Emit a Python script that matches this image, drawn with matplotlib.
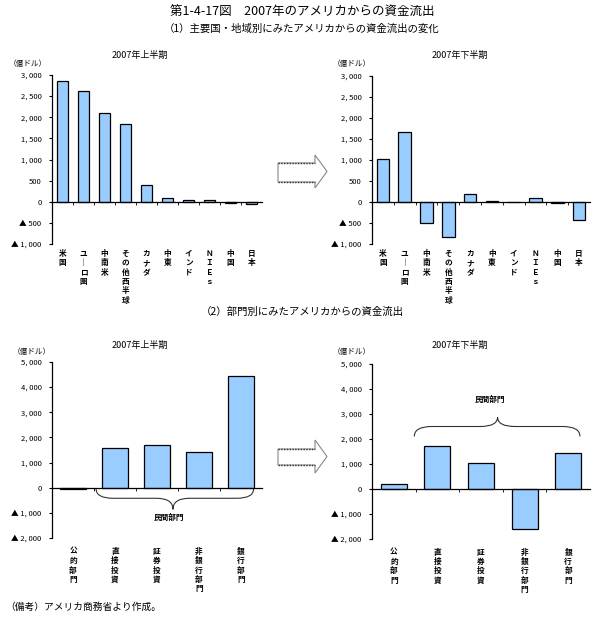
import numpy as np
import matplotlib
matplotlib.use("Agg")
import matplotlib.pyplot as plt
from matplotlib.path import Path
from matplotlib.patches import PathPatch, Polygon
from matplotlib.transforms import blended_transform_factory

plt.rcParams['font.family'] = ['Noto Sans CJK JP', 'DejaVu Sans']

# (1) regions / countries
regions = ["米国", "ユ｜ロ圏", "中南米", "その他西半球", "カナダ", "中東", "インド", "ＮＩＥｓ", "中国", "日本"]
first_half = [2850, 2610, 2100, 1830, 400, 80, 50, 50, -20, -50]
second_half = [1030, 1660, -500, -840, 200, 35, 10, 105, -20, -440]
top_ticks = [-1000, -500, 0, 500, 1000, 1500, 2000, 2500, 3000]

# (2) sectors
sectors = ["公的部門", "直接投資", "証券投資", "非銀行部門", "銀行部門"]
sector_first = [-50, 1590, 1700, 1420, 4430]
sector_second = [200, 1720, 1040, -1600, 1440]
bottom_ticks = [-2000, -1000, 0, 1000, 2000, 3000, 4000, 5000]

W, H = 604, 617
BAR = "#99CCFF"


def px(x, y):
    return x / W, 1 - y / H


def fmt(v):
    s = f"{abs(v):,}".replace(",", ", ")
    return "▲ " + s if v < 0 else s


def bar_panel(rect, cats, vals, ticks, width, label_top=-0.03):
    x0, y0, x1, y1 = rect
    ax = fig.add_axes([x0 / W, 1 - y1 / H, (x1 - x0) / W, (y1 - y0) / H])
    n = len(cats)
    x = np.arange(n)
    ax.bar(x, vals, width=width, color=BAR, edgecolor="black", linewidth=0.9)
    ax.set_xlim(-0.5, n - 0.5)
    ax.set_ylim(ticks[0], ticks[-1])
    ax.spines['top'].set_visible(False)
    ax.spines['right'].set_visible(False)
    ax.spines['bottom'].set_position(('data', 0))
    ax.spines['left'].set_linewidth(0.9)
    ax.spines['bottom'].set_linewidth(0.9)
    ax.set_xticks(np.arange(n - 1) + 0.5)
    ax.set_xticklabels([])
    ax.tick_params(axis='x', length=2, width=0.6, direction='out')
    ax.set_yticks(ticks)
    ax.set_yticklabels([fmt(t) for t in ticks], fontsize=5.5)
    ax.tick_params(axis='y', length=2.5, width=0.8, pad=5)
    tr = blended_transform_factory(ax.transData, ax.transAxes)
    for i, c in enumerate(cats):
        ax.text(i, label_top, "\n".join(c), transform=tr, ha='center', va='top',
                fontsize=5.5, linespacing=1.05, fontweight='bold')
    return ax


def brace(ax, x0, x1, xc, y_end, y_body, y_tip, r):
    verts = [(x0, y_end), (x0, y_body), (x0 + r, y_body),
             (xc - r, y_body), (xc, y_body), (xc, y_tip),
             (xc, y_body), (xc + r, y_body),
             (x1 - r, y_body), (x1, y_body), (x1, y_end)]
    codes = [Path.MOVETO, Path.CURVE3, Path.CURVE3,
             Path.LINETO, Path.CURVE3, Path.CURVE3,
             Path.CURVE3, Path.CURVE3,
             Path.LINETO, Path.CURVE3, Path.CURVE3]
    ax.add_patch(PathPatch(Path(verts, codes), facecolor='none', edgecolor='#333333',
                           linewidth=0.8, clip_on=False))


def arrow(xa, xs, xt, ya, yb, ha, hb):
    ym = (ha + hb) / 2
    pts = [px(xa, ya), px(xs, ya), px(xs, ha), px(xt, ym), px(xs, hb), px(xs, yb), px(xa, yb)]
    fig.add_artist(Polygon(pts, closed=True, facecolor='white', edgecolor='#888888',
                           linewidth=0.8, transform=fig.transFigure))
    for yy in (ya, yb):
        fig.add_artist(plt.Line2D([xa / W, xs / W], [1 - yy / H] * 2, color='#333333',
                                  linestyle=(0, (1, 1)), linewidth=1.0,
                                  transform=fig.transFigure))


fig = plt.figure(figsize=(W / 100, H / 100), dpi=100)

fig.text(*px(302, 12), "第1-4-17図　2007年のアメリカからの資金流出", ha='center', va='center', fontsize=9)
fig.text(*px(302, 29), "（1）主要国・地域別にみたアメリカからの資金流出の変化", ha='center', va='center', fontsize=7.5)
fig.text(*px(302, 312), "（2）部門別にみたアメリカからの資金流出", ha='center', va='center', fontsize=7.5)
fig.text(*px(5, 607), "（備考）アメリカ商務省より作成。", ha='left', va='center', fontsize=7)

for cx, cy, t in [(140, 55, "2007年上半期"), (460, 55, "2007年下半期"),
                  (140, 345, "2007年上半期"), (460, 345, "2007年下半期")]:
    fig.text(*px(cx, cy), t, ha='center', va='center', fontsize=6.5)
for cx, cy in [(28, 64), (352, 64), (32, 352), (352, 352)]:
    fig.text(*px(cx, cy), "（億ドル）", ha='center', va='center', fontsize=5.5)

bar_panel((52, 75, 262, 244), regions, first_half, top_ticks, 0.57)
bar_panel((372, 76, 590, 244), regions, second_half, top_ticks, 0.57)
axl = bar_panel((52, 362, 262, 538), sectors, sector_first, bottom_ticks, 0.6, label_top=-0.05)
axr = bar_panel((372, 364, 590, 539), sectors, sector_second, bottom_ticks, 0.6, label_top=-0.05)

brace(axl, 0.55, 4.3, 2.38, -40, -420, -860, 0.4)
axl.text(2.28, -1190, "民間部門", ha='center', va='center', fontsize=5.5, fontweight='bold')
brace(axr, 0.47, 4.27, 2.38, 2100, 2500, 2880, 0.4)
axr.text(2.21, 3600, "民間部門", ha='center', va='center', fontsize=5.5, fontweight='bold')

arrow(278, 315, 327, 163, 182, 155, 188)
arrow(278, 315, 327, 449, 465, 440, 473)

fig.savefig("out.png", dpi=100)
